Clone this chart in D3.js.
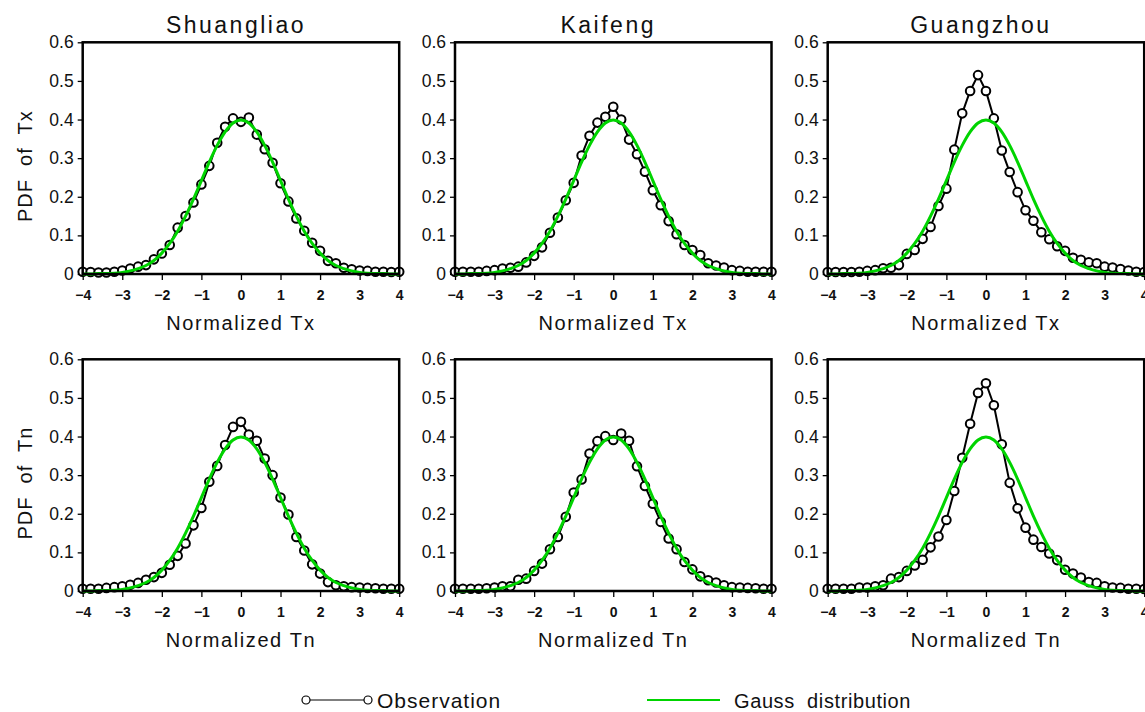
<!DOCTYPE html>
<html>
<head>
<meta charset="utf-8">
<script src="https://cdn.jsdelivr.net/npm/d3@7"></script>
<style>
  body { margin: 0; background: #fff; }
  svg { display: block; }
</style>
</head>
<body>
<div id="chart"></div>
<script>
// bins of the normalized temperature
var bins = [-4, -3.8, -3.6, -3.4, -3.2, -3, -2.8, -2.6, -2.4, -2.2, -2, -1.8, -1.6, -1.4, -1.2, -1, -0.8, -0.6, -0.4, -0.2,
            0, 0.2, 0.4, 0.6, 0.8, 1, 1.2, 1.4, 1.6, 1.8, 2, 2.2, 2.4, 2.6, 2.8, 3, 3.2, 3.4, 3.6, 3.8, 4];

var stations = ["Shuangliao", "Kaifeng", "Guangzhou"];
var variables = ["Tx", "Tn"];

var shuangliaoTx = [0.006, 0.005, 0.004, 0.004, 0.006, 0.009, 0.014, 0.019, 0.023, 0.038, 0.053, 0.075, 0.12, 0.15, 0.185, 0.232, 0.28, 0.34, 0.381, 0.403,
                    0.394, 0.405, 0.361, 0.323, 0.288, 0.235, 0.188, 0.144, 0.112, 0.081, 0.06, 0.034, 0.028, 0.016, 0.012, 0.009, 0.008, 0.006, 0.006, 0.005, 0.006];
var kaifengTx = [0.006, 0.006, 0.006, 0.006, 0.008, 0.01, 0.014, 0.016, 0.019, 0.03, 0.047, 0.069, 0.107, 0.146, 0.191, 0.236, 0.307, 0.358, 0.392, 0.407,
                 0.433, 0.4, 0.348, 0.31, 0.265, 0.217, 0.178, 0.137, 0.103, 0.075, 0.062, 0.049, 0.028, 0.022, 0.017, 0.01, 0.008, 0.006, 0.006, 0.006, 0.006];
var guangzhouTx = [0.005, 0.005, 0.005, 0.005, 0.006, 0.008, 0.01, 0.015, 0.016, 0.023, 0.052, 0.062, 0.091, 0.122, 0.176, 0.221, 0.322, 0.416, 0.474, 0.515,
                   0.474, 0.403, 0.32, 0.264, 0.212, 0.165, 0.138, 0.108, 0.09, 0.072, 0.06, 0.042, 0.037, 0.03, 0.028, 0.019, 0.017, 0.013, 0.009, 0.006, 0.005];
var shuangliaoTn = [0.006, 0.006, 0.006, 0.008, 0.01, 0.012, 0.016, 0.021, 0.029, 0.036, 0.047, 0.068, 0.091, 0.123, 0.17, 0.215, 0.283, 0.324, 0.378, 0.425,
                    0.438, 0.405, 0.389, 0.343, 0.3, 0.242, 0.198, 0.14, 0.105, 0.069, 0.045, 0.023, 0.015, 0.012, 0.01, 0.009, 0.008, 0.007, 0.006, 0.006, 0.006];
var kaifengTn = [0.006, 0.006, 0.006, 0.006, 0.007, 0.009, 0.012, 0.012, 0.029, 0.032, 0.052, 0.071, 0.108, 0.14, 0.192, 0.255, 0.289, 0.356, 0.388, 0.401,
                 0.391, 0.408, 0.389, 0.323, 0.272, 0.226, 0.179, 0.136, 0.108, 0.075, 0.056, 0.038, 0.028, 0.022, 0.015, 0.01, 0.009, 0.008, 0.007, 0.006, 0.006];
var guangzhouTn = [0.006, 0.006, 0.006, 0.006, 0.009, 0.009, 0.012, 0.015, 0.032, 0.036, 0.052, 0.066, 0.081, 0.113, 0.141, 0.184, 0.259, 0.345, 0.433, 0.513,
                   0.538, 0.481, 0.38, 0.28, 0.214, 0.164, 0.133, 0.114, 0.097, 0.08, 0.055, 0.045, 0.035, 0.023, 0.021, 0.012, 0.009, 0.008, 0.006, 0.006, 0.005];

// gauss curve (same in every panel)
var gaussY = [0.000, 0.000, 0.001, 0.001, 0.002, 0.004, 0.008, 0.014, 0.022, 0.035, 0.054, 0.079, 0.111, 0.150, 0.194, 0.242, 0.290, 0.333, 0.368, 0.391,
              0.399, 0.391, 0.368, 0.333, 0.290, 0.242, 0.194, 0.150, 0.111, 0.079, 0.054, 0.035, 0.022, 0.014, 0.008, 0.004, 0.002, 0.001, 0.001, 0.000, 0.000];

var xTicks = [-4, -3, -2, -1, 0, 1, 2, 3, 4];
var yTicks = [0, 0.1, 0.2, 0.3, 0.4, 0.5, 0.6];

var observed = [
    [shuangliaoTx, kaifengTx, guangzhouTx],
    [shuangliaoTn, kaifengTn, guangzhouTn]
];

var width = 1145, height = 712;
var green = "#00d400";
var font = "'Liberation Sans', Arial, sans-serif";

var colLeft = [82.7, 455, 827.7];
var rowTop = [42.3, 359.3];
var pw = 316.5, ph = 231.7;

var svg = d3.select("#chart")
    .append("svg")
    .attr("width", width)
    .attr("height", height);

var x = d3.scaleLinear().domain([-4, 4]).range([0, pw]);
var y = d3.scaleLinear().domain([0, 0.6]).range([ph, 0]);

var obsLine = d3.line()
    .x(function (d) { return x(d[0]); })
    .y(function (d) { return y(d[1]); });

var gaussLine = d3.line()
    .curve(d3.curveMonotoneX)
    .x(function (d) { return x(d[0]); })
    .y(function (d) { return y(d[1]); });

var yFmt = function (d) { return d === 0 ? "0" : d3.format(".1f")(d); };

variables.forEach(function (v, r) {
    stations.forEach(function (s, c) {
        var g = svg.append("g")
            .attr("transform", "translate(" + colLeft[c] + "," + rowTop[r] + ")");

        var pts = bins.map(function (b, i) { return [b, observed[r][c][i]]; });
        var gpts = bins.map(function (b, i) { return [b, gaussY[i]]; });

        // axes
        var xa = g.append("g")
            .attr("transform", "translate(0," + ph + ")")
            .call(d3.axisBottom(x).tickValues(xTicks).tickSize(6).tickPadding(10)
                .tickFormat(d3.format("d")));
        xa.select(".domain").remove();
        xa.selectAll("line").attr("stroke-width", 1.3);
        xa.selectAll("text")
            .attr("font-family", font)
            .attr("font-size", 14)
            .attr("font-weight", "bold")
            .attr("fill", "#111");

        var ya = g.append("g")
            .call(d3.axisLeft(y).tickValues(yTicks).tickSize(5).tickPadding(4).tickFormat(yFmt));
        ya.select(".domain").remove();
        ya.selectAll("line").attr("stroke-width", 1.3);
        ya.selectAll("text")
            .attr("font-family", font)
            .attr("font-size", 17.5)
            .attr("fill", "#111");

        // observation
        g.append("path")
            .datum(pts)
            .attr("d", obsLine)
            .attr("fill", "none")
            .attr("stroke", "#000")
            .attr("stroke-width", 2);

        g.selectAll("circle.obs")
            .data(pts)
            .enter().append("circle")
            .attr("class", "obs")
            .attr("cx", function (d) { return x(d[0]); })
            .attr("cy", function (d) { return y(d[1]); })
            .attr("r", 4.3)
            .attr("fill", "#fff")
            .attr("stroke", "#000")
            .attr("stroke-width", 2);

        // gauss
        g.append("path")
            .datum(gpts)
            .attr("d", gaussLine)
            .attr("fill", "none")
            .attr("stroke", green)
            .attr("stroke-width", 3);

        // frame
        g.append("rect")
            .attr("width", pw)
            .attr("height", ph)
            .attr("fill", "none")
            .attr("stroke", "#000")
            .attr("stroke-width", 2.5);

        // x title
        g.append("text")
            .text("Normalized " + v)
            .attr("x", pw / 2)
            .attr("y", ph + 56)
            .attr("text-anchor", "middle")
            .attr("font-family", font)
            .attr("font-size", 20)
            .attr("letter-spacing", 1.6)
            .attr("fill", "#111");

        if (r === 0) {
            svg.append("text")
                .text(s)
                .attr("x", colLeft[c] + pw / 2 - 5)
                .attr("y", 33)
                .attr("text-anchor", "middle")
                .attr("font-family", font)
                .attr("font-size", 23)
                .attr("letter-spacing", 2.5)
                .attr("fill", "#111");
        }

        if (c === 0) {
            svg.append("text")
                .text("PDF  of  " + v)
                .attr("transform", "translate(32," + (rowTop[r] + ph / 2 + 8) + ") rotate(-90)")
                .attr("text-anchor", "middle")
                .attr("font-family", font)
                .attr("font-size", 20)
                .attr("letter-spacing", 1)
                .style("white-space", "pre")
                .attr("fill", "#111");
        }
    });
});

// legend
var leg = svg.append("g");
leg.append("line")
    .attr("x1", 306).attr("x2", 368)
    .attr("y1", 700).attr("y2", 700)
    .attr("stroke", "#000").attr("stroke-width", 1.2);
leg.selectAll("circle")
    .data([306, 368])
    .enter().append("circle")
    .attr("cx", function (d) { return d; })
    .attr("cy", 700)
    .attr("r", 4)
    .attr("fill", "#fff")
    .attr("stroke", "#000")
    .attr("stroke-width", 1.2);
leg.append("text")
    .text("Observation")
    .attr("x", 377).attr("y", 708)
    .attr("font-family", font)
    .attr("font-size", 21)
    .attr("letter-spacing", 1)
    .attr("fill", "#111");
leg.append("line")
    .attr("x1", 647).attr("x2", 720)
    .attr("y1", 700).attr("y2", 700)
    .attr("stroke", green).attr("stroke-width", 2);
leg.append("text")
    .text("Gauss  distribution")
    .attr("x", 734).attr("y", 708)
    .attr("font-family", font)
    .attr("font-size", 20)
    .attr("letter-spacing", 0.6)
    .style("white-space", "pre")
    .attr("fill", "#111");
</script>
</body>
</html>
